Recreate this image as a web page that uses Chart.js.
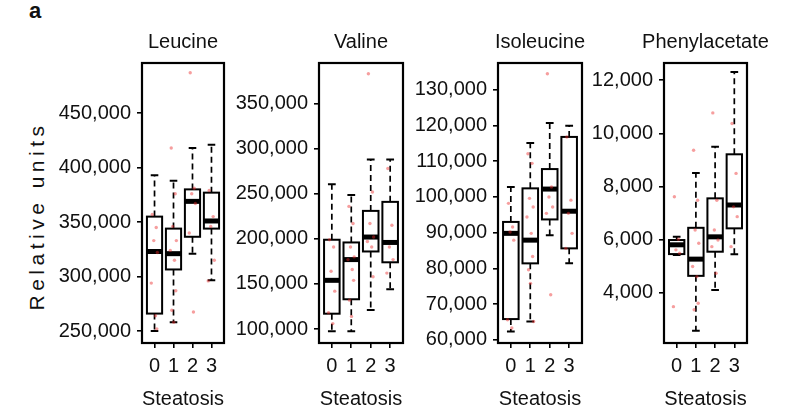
<!DOCTYPE html>
<html>
<head>
<meta charset="utf-8">
<title>Steatosis boxplots</title>
<script src="https://cdn.jsdelivr.net/npm/chart.js@4.4.1/dist/chart.umd.min.js"></script>
<style>
  body { margin: 0; background: #fff; }
  #wrap { position: relative; width: 790px; height: 415px; overflow: hidden;
          font-family: "Liberation Sans", Arial, sans-serif; color: #111; }
  #wrap canvas { position: absolute; top: 0; }
  #tag { position: absolute; left: 29px; top: -2px; font-weight: bold; font-size: 22px; }
  #ylab { position: absolute; left: 37px; top: 216px; font-size: 21px; letter-spacing: 4.5px;
          white-space: nowrap; transform: translate(-50%, -50%) rotate(-90deg); }
</style>
</head>
<body>
<div id="wrap">
  <div id="tag">a</div>
  <div id="ylab">Relative units</div>
</div>

<script>
  // steatosis grade on the x axis of every panel
  const steatosis = ['0', '1', '2', '3'];

  // per grade: [lower whisker, Q1, median, Q3, upper whisker]
  const leucineStats = [
    [250000, 266000, 323000, 355000, 393000],
    [258000, 306500, 321000, 344000, 388000],
    [321000, 336500, 369000, 380000, 418000],
    [296500, 344000, 351000, 377000, 421000]
  ];
  const leucinePoints = [
    [357000, 345000, 333000, 322000, 294000, 264000, 252000],
    [418000, 376000, 346000, 333000, 324000, 315000, 287000, 269000, 258000],
    [487000, 381000, 376000, 367000, 340000, 267500],
    [379000, 355000, 346000, 315000, 296000]
  ];
  const leucineTicks = [250000, 300000, 350000, 400000, 450000];

  const valineStats = [
    [97500, 117000, 154000, 199000, 260500],
    [97500, 133000, 177000, 196000, 248500],
    [121000, 186000, 202000, 231000, 288000],
    [144000, 174000, 196000, 241000, 288000]
  ];
  const valinePoints = [
    [199000, 191000, 164000, 142000, 118000, 106000],
    [236000, 217000, 191000, 180000, 177000, 166000, 154000, 132000, 114000],
    [383000, 252000, 217000, 202000, 197000, 191000, 158000],
    [278000, 215000, 191000, 177000, 162000]
  ];
  const valineTicks = [100000, 150000, 200000, 250000, 300000, 350000];

  const isoleucineStats = [
    [62300, 65800, 89800, 93000, 102800],
    [65100, 81400, 87900, 102400, 115100],
    [89300, 93700, 102200, 107800, 120700],
    [81400, 85600, 96000, 116800, 119900]
  ];
  const isoleucinePoints = [
    [98200, 91600, 90200, 87900, 65600, 63300],
    [112100, 109400, 99600, 97200, 94400, 89800, 83300, 79600, 75800, 65100],
    [134500, 102800, 100000, 97200, 95400, 72600],
    [116800, 99100, 95400, 89800, 85600]
  ];
  const isoleucineTicks = [60000, 70000, 80000, 90000, 100000, 110000, 120000, 130000];

  const phenylacetateStats = [
    [5420, 5450, 5800, 5980, 6100],
    [2560, 4630, 5260, 6440, 8510],
    [4100, 5540, 6100, 7550, 9490],
    [5440, 6420, 7300, 9210, 12310]
  ];
  const phenylacetatePoints = [
    [7610, 6010, 5610, 5480, 3470],
    [9360, 7480, 6360, 5860, 4980, 4600, 3600, 3350],
    [10770, 7480, 6360, 5980, 5730, 4730],
    [10370, 8490, 7230, 6860, 5730]
  ];
  const phenylacetateTicks = [4000, 6000, 8000, 10000, 12000];

  // small horizontal spread for the raw points
  const jitter = [-0.12, 0.09, -0.04, 0.15, -0.17, 0.05, 0.12, -0.09, 0.01, 0.17];

  const FONT = '"Liberation Sans", Arial, sans-serif';
  const FONT_SIZE = 20;
  const AXIS_W = 100;   // room for the y tick labels
  const PAD_R = 38;

  const panels = [
    { title: 'Leucine', stats: leucineStats, points: leucinePoints, ticks: leucineTicks,
      min: 239000, max: 496000, left: 142, right: 224 },
    { title: 'Valine', stats: valineStats, points: valinePoints, ticks: valineTicks,
      min: 84500, max: 395000, left: 319, right: 403 },
    { title: 'Isoleucine', stats: isoleucineStats, points: isoleucinePoints, ticks: isoleucineTicks,
      min: 59100, max: 137500, left: 498, right: 582 },
    { title: 'Phenylacetate', stats: phenylacetateStats, points: phenylacetatePoints, ticks: phenylacetateTicks,
      min: 2100, max: 12650, left: 664, right: 747 }
  ];

  // boxes, dashed whiskers and staples drawn on the chart's own scales,
  // then the panel frame and its title
  const boxplotPlugin = {
    id: 'boxplot',
    beforeDatasetsDraw(chart, args, opts) {
      const { ctx, scales: { x, y } } = chart;
      ctx.save();
      ctx.strokeStyle = '#000';
      opts.stats.forEach(([lo, q1, med, q3, hi], i) => {
        const cx = x.getPixelForValue(i);
        const hw = x.getPixelForValue(i + 0.4) - cx;
        const cap = hw / 2;
        const yLo = y.getPixelForValue(lo);
        const yQ1 = y.getPixelForValue(q1);
        const yMed = y.getPixelForValue(med);
        const yQ3 = y.getPixelForValue(q3);
        const yHi = y.getPixelForValue(hi);

        ctx.lineWidth = 1.7;
        ctx.setLineDash([6, 4]);
        ctx.beginPath();
        ctx.moveTo(cx, yQ3); ctx.lineTo(cx, yHi);
        ctx.moveTo(cx, yQ1); ctx.lineTo(cx, yLo);
        ctx.stroke();
        ctx.setLineDash([]);

        ctx.lineWidth = 2;
        ctx.beginPath();
        ctx.moveTo(cx - cap, yHi); ctx.lineTo(cx + cap, yHi);
        ctx.moveTo(cx - cap, yLo); ctx.lineTo(cx + cap, yLo);
        ctx.stroke();

        ctx.fillStyle = '#fff';
        ctx.fillRect(cx - hw, yQ3, 2 * hw, yQ1 - yQ3);
        ctx.strokeRect(cx - hw, yQ3, 2 * hw, yQ1 - yQ3);

        ctx.lineWidth = 5;
        ctx.beginPath();
        ctx.moveTo(cx - hw, yMed); ctx.lineTo(cx + hw, yMed);
        ctx.stroke();
      });
      ctx.restore();
    },
    afterDatasetsDraw(chart, args, opts) {
      const { ctx, chartArea: a } = chart;
      ctx.save();
      ctx.lineWidth = 2.2;
      ctx.strokeStyle = '#000';
      ctx.strokeRect(a.left, a.top, a.right - a.left, a.bottom - a.top);
      ctx.fillStyle = '#111';
      ctx.font = FONT_SIZE + 'px ' + FONT;
      ctx.textAlign = 'center';
      ctx.textBaseline = 'middle';
      ctx.fillText(opts.title, (a.left + a.right) / 2, 42);
      ctx.restore();
    }
  };

  const wrap = document.getElementById('wrap');

  panels.forEach(p => {
    const canvas = document.createElement('canvas');
    canvas.width = AXIS_W + (p.right - p.left) + PAD_R;
    canvas.height = 415;
    canvas.style.left = (p.left - AXIS_W) + 'px';
    wrap.appendChild(canvas);

    const pts = [];
    p.points.forEach((vals, g) => {
      vals.forEach((v, k) => pts.push({ x: g + jitter[k % jitter.length], y: v }));
    });

    new Chart(canvas, {
      type: 'scatter',
      data: {
        datasets: [{
          data: pts,
          pointRadius: 1.7,
          pointBorderWidth: 0,
          backgroundColor: 'rgba(235, 40, 40, 0.45)'
        }]
      },
      plugins: [boxplotPlugin],
      options: {
        responsive: false,
        animation: false,
        devicePixelRatio: 1,
        layout: { padding: { top: 63, right: PAD_R, bottom: 0, left: 0 } },
        plugins: {
          legend: { display: false },
          tooltip: { enabled: false },
          boxplot: { stats: p.stats, title: p.title }
        },
        scales: {
          x: {
            type: 'linear',
            min: -0.66,
            max: 3.66,
            afterBuildTicks: s => { s.ticks = steatosis.map((_, i) => ({ value: i })); },
            afterFit: s => { s.height = 72; },
            ticks: {
              color: '#111',
              padding: 6,
              font: { family: FONT, size: FONT_SIZE },
              callback: (v, i) => steatosis[i]
            },
            grid: { display: true, drawOnChartArea: false, drawTicks: true, tickLength: 5, color: '#000', lineWidth: 1.6 },
            border: { display: false },
            title: {
              display: true,
              text: 'Steatosis',
              color: '#111',
              font: { family: FONT, size: FONT_SIZE },
              padding: { top: 0, bottom: 4 }
            }
          },
          y: {
            min: p.min,
            max: p.max,
            afterBuildTicks: s => { s.ticks = p.ticks.map(v => ({ value: v })); },
            afterFit: s => { s.width = AXIS_W; },
            ticks: {
              color: '#111',
              padding: 6,
              font: { family: FONT, size: FONT_SIZE },
              callback: v => v.toLocaleString('en-US')
            },
            grid: { display: true, drawOnChartArea: false, drawTicks: true, tickLength: 5, color: '#000', lineWidth: 1.6 },
            border: { display: false }
          }
        }
      }
    });
  });
</script>
</body>
</html>
